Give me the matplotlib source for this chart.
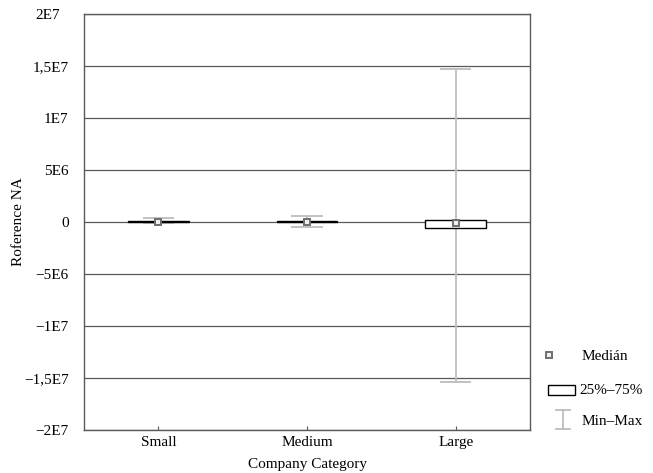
import numpy as np
import matplotlib
matplotlib.use("Agg")
from matplotlib import pyplot as plt
from matplotlib.lines import Line2D
from matplotlib.patches import Rectangle
from matplotlib.transforms import ScaledTranslation

# data
categories = ["Small", "Medium", "Large"]
medians = [0.0, 0.0, -0.1e6]
q1 = [-0.03e6, 0.0, -0.55e6]
q3 = [0.05e6, 0.1e6, 0.2e6]
mins = [-0.1e6, -0.45e6, -15.4e6]
maxs = [0.42e6, 0.6e6, 14.7e6]

yticks = [2e7, 1.5e7, 1e7, 5e6, 0, -5e6, -1e7, -1.5e7, -2e7]
ytick_labels = ["2E7", "1,5E7", "1E7", "5E6", "0", "\u22125E6", "\u22121E7",
                "\u22121,5E7", "\u22122E7"]
legend_labels = ["Medián", "25%\u201375%", "Min\u2013Max"]

plt.rcParams["font.family"] = ["Liberation Serif", "DejaVu Serif"]
plt.rcParams["font.size"] = 11

whisk_col = "#bdbdbd"
med_edge = "#6e6e6e"
grid_col = "#5a5a5a"

W, H = 653, 473
fig = plt.figure(figsize=(W / 100, H / 100), dpi=100)
ax = fig.add_axes([84 / W, 1 - 430 / H, 446 / W, 416 / H])

x = np.arange(len(categories))
box_w = 0.41
cap_w = 0.21

# gridlines
for t in yticks:
    ax.axhline(t, color=grid_col, lw=0.9, zorder=0)

# whiskers
ax.vlines(x, mins, maxs, color=whisk_col, lw=1.3, zorder=2)
ax.hlines(mins, x - cap_w / 2, x + cap_w / 2, color=whisk_col, lw=1.3, zorder=2)
ax.hlines(maxs, x - cap_w / 2, x + cap_w / 2, color=whisk_col, lw=1.3, zorder=2)

# boxes
ax.bar(x, np.array(q3) - np.array(q1), bottom=q1, width=box_w,
       facecolor="white", edgecolor="black", lw=1.0, zorder=3)

# medians
ax.plot(x, medians, ls="none", marker="s", ms=4.5, mfc="#f0f0f0",
        mec=med_edge, mew=1.4, zorder=4)

ax.set_xlim(-0.5, 2.5)
ax.set_ylim(-2e7, 2e7)
ax.set_xticks(x)
ax.set_xticklabels(categories)
ax.set_yticks(yticks)
ax.set_yticklabels(ytick_labels)
ax.tick_params(axis="x", direction="in", length=3, color=grid_col, pad=4)
ax.tick_params(axis="y", length=0, pad=11)
# top label sits a bit to the left in the original
top_lab = ax.get_yticklabels()[0]
top_lab.set_transform(top_lab.get_transform() +
                      ScaledTranslation(-0.09, 0, fig.dpi_scale_trans))
for s in ax.spines.values():
    s.set_color(grid_col)
    s.set_linewidth(1.0)

ax.set_xlabel("Company Category", labelpad=7)
ax.set_ylabel("Roference NA")
ax.yaxis.set_label_coords((25 - 84) / 446, 0.5)

# legend drawn by hand (Min-Max icon is a vertical I-beam)
def fx(px):
    return px / W

def fy(py):
    return 1 - py / H

fig.add_artist(Line2D([fx(549)], [fy(355)], ls="none", marker="s", ms=4.5,
                      mfc="#f0f0f0", mec=med_edge, mew=1.4))
fig.add_artist(Rectangle((fx(548), fy(395)), fx(575) - fx(548), fy(385) - fy(395),
                         facecolor="white", edgecolor="black", lw=1.0,
                         transform=fig.transFigure))
fig.add_artist(Line2D([fx(563), fx(563)], [fy(410), fy(429)], color=whisk_col, lw=1.3))
fig.add_artist(Line2D([fx(556), fx(570)], [fy(410), fy(410)], color=whisk_col, lw=1.3))
fig.add_artist(Line2D([fx(556), fx(570)], [fy(429), fy(429)], color=whisk_col, lw=1.3))
for lab, ly, lx in zip(legend_labels, [356, 390, 421], [582, 579, 582]):
    fig.text(fx(lx), fy(ly), lab, ha="left", va="center")

fig.savefig("out.png", dpi=100)
